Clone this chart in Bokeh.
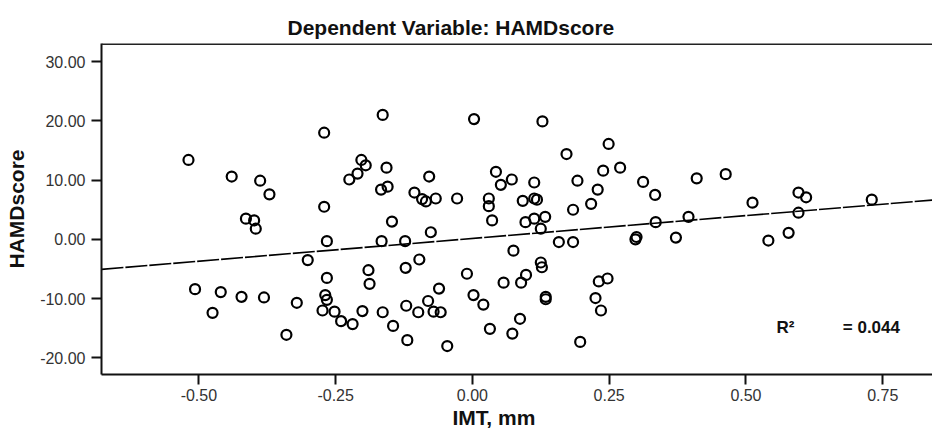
from bokeh.plotting import figure
from bokeh.models import FixedTicker, PrintfTickFormatter, Label, Span, Range1d, Title
from bokeh.embed import file_html
from bokeh.resources import INLINE

# IMT, mm (x) and HAMD score (y)
imt = [-0.519, -0.440, -0.388, -0.371, -0.414, -0.399, -0.396, -0.507, -0.460, -0.422,
       -0.381, -0.475, -0.321, -0.340, -0.301, -0.271, -0.164, -0.203, -0.195, -0.210,
       -0.225, -0.157, -0.167, -0.155, -0.079, -0.106, -0.092, -0.085, -0.067, -0.028,
       -0.271, -0.147, -0.076, -0.266, -0.166, -0.123, -0.097, -0.122, -0.190, -0.188,
       -0.266, -0.269, -0.266, -0.274, -0.252, -0.240, -0.219, -0.201, -0.164, -0.145,
       -0.121, -0.119, -0.099, -0.081, -0.061, -0.071, -0.058, -0.046, -0.010, 0.002,
       0.003, 0.128, 0.249, 0.172, 0.270, 0.239, 0.192, 0.229, 0.312, 0.043,
       0.052, 0.072, 0.113, 0.030, 0.030, 0.092, 0.113, 0.118, 0.184, 0.217,
       0.036, 0.097, 0.113, 0.133, 0.125, 0.158, 0.184, 0.298, 0.300, 0.075,
       0.125, 0.127, 0.098, 0.089, 0.057, 0.020, 0.134, 0.134, 0.231, 0.247,
       0.225, 0.235, 0.087, 0.073, 0.032, 0.197, 0.334, 0.410, 0.463, 0.512,
       0.596, 0.610, 0.730, 0.596, 0.335, 0.395, 0.372, 0.541, 0.578]
hamd = [13.4, 10.6, 9.9, 7.6, 3.5, 3.2, 1.8, -8.4, -8.9, -9.7,
        -9.8, -12.4, -10.7, -16.1, -3.5, 18.0, 21.0, 13.4, 12.5, 11.1,
        10.1, 12.1, 8.4, 8.9, 10.6, 7.9, 6.8, 6.4, 6.9, 6.9,
        5.5, 3.0, 1.2, -0.3, -0.3, -0.3, -3.4, -4.8, -5.2, -7.5,
        -6.5, -9.4, -10.2, -12.0, -12.2, -13.8, -14.3, -12.1, -12.3, -14.6,
        -11.2, -17.0, -12.3, -10.4, -8.3, -12.2, -12.3, -18.0, -5.8, -9.4,
        20.3, 19.9, 16.1, 14.4, 12.1, 11.6, 9.9, 8.4, 9.7, 11.4,
        9.2, 10.1, 9.6, 6.9, 5.6, 6.5, 6.9, 6.7, 5.0, 6.0,
        3.2, 2.9, 3.5, 3.8, 1.8, -0.45, -0.45, 0.0, 0.4, -1.9,
        -3.9, -4.7, -6.0, -7.3, -7.3, -11.0, -9.7, -10.1, -7.1, -6.6,
        -9.9, -12.0, -13.4, -15.9, -15.1, -17.3, 7.5, 10.3, 11.0, 6.2,
        7.9, 7.1, 6.7, 4.5, 2.9, 3.8, 0.3, -0.2, 1.1]

# Fit line end points
fit_x = [-0.678, 0.856]
fit_y = [-5.06, 6.75]

x_ticks = [-0.50, -0.25, 0.0, 0.25, 0.50, 0.75]
y_ticks = [-20, -10, 0, 10, 20, 30]

title_text = "Dependent Variable: HAMDscore"
x_label = "IMT, mm"
y_label = "HAMDscore"
r2_label = "R²"
r2_value = "= 0.044"

FONT = "Liberation Sans"

p = figure(width=932, height=429, output_backend="svg", toolbar_location=None,
           x_range=Range1d(-0.678, 0.841), y_range=Range1d(-22.8, 33.05),
           min_border_left=101, min_border_right=0, min_border_top=43, min_border_bottom=55,
           background_fill_color="white", border_fill_color="white")
p.outline_line_color = None
p.grid.visible = False

for ax in (p.xaxis[0], p.yaxis[0]):
    ax.axis_line_width = 2
    ax.axis_line_color = "#111111"
    ax.major_tick_line_width = 2
    ax.major_tick_line_color = "#111111"
    ax.major_tick_out = 10
    ax.major_tick_in = 0
    ax.minor_tick_line_color = None
    ax.major_label_text_font = FONT
    ax.major_label_text_font_size = "16px"
    ax.major_label_text_color = "#333333"
    ax.formatter = PrintfTickFormatter(format="%.2f")

p.xaxis[0].ticker = FixedTicker(ticks=x_ticks)
p.yaxis[0].ticker = FixedTicker(ticks=y_ticks)
p.xaxis[0].major_label_standoff = 4
p.yaxis[0].major_label_standoff = 6

p.yaxis[0].axis_label = y_label
p.yaxis[0].axis_label_text_font = FONT
p.yaxis[0].axis_label_text_font_size = "21px"
p.yaxis[0].axis_label_text_font_style = "bold"
p.yaxis[0].axis_label_text_color = "#111111"
p.yaxis[0].axis_label_standoff = 9

p.title = Title(text=title_text, align="left", offset=186, standoff=9,
                text_font=FONT, text_font_size="21px", text_font_style="bold",
                text_color="#111111")
p.add_layout(Title(text=x_label, align="left", offset=351, standoff=0,
                   text_font=FONT, text_font_size="21px", text_font_style="bold",
                   text_color="#111111"), "below")

# top border of the frame
p.add_layout(Span(location=33.05, dimension="width", line_color="#222222", line_width=3))

p.line(fit_x, fit_y, line_color="black", line_width=1.6, line_dash="22 2")
p.scatter(imt, hamd, marker="circle", size=10, fill_color=None,
          line_color="black", line_width=2.2)

p.add_layout(Label(x=0.556, y=-14.8, text=r2_label,
                   text_font=FONT, text_font_size="17px", text_font_style="bold",
                   text_align="left", text_baseline="middle", text_color="#111111"))
p.add_layout(Label(x=0.677, y=-14.8, text=r2_value,
                   text_font=FONT, text_font_size="17px", text_font_style="bold",
                   text_align="left", text_baseline="middle", text_color="#111111"))

open("out.html", "w").write(file_html(p, INLINE))
